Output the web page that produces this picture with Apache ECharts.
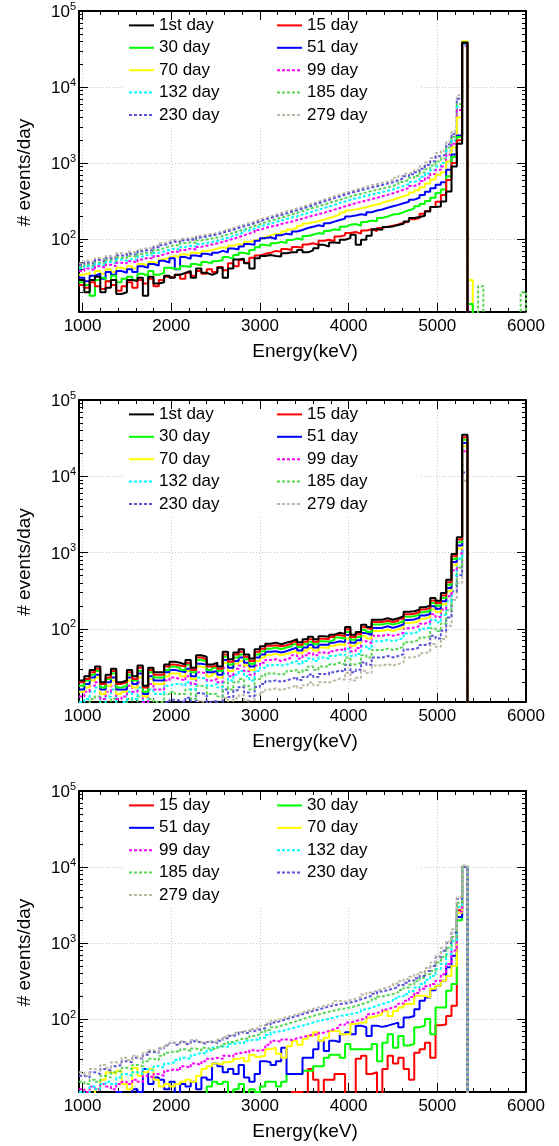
<!DOCTYPE html>
<html><head><meta charset="utf-8">
<script src="https://cdn.jsdelivr.net/npm/echarts@6/dist/echarts.min.js"></script>
<style>html,body{margin:0;padding:0;background:#fff}#c{width:559px;height:1146px}</style>
</head><body><div id="c"></div><script>
// ---------------- DATA ----------------
// Histogram bins: 60 keV wide, first bin starts at 960 keV (bin k covers 960+60k .. 960+60(k+1))
const binLo = 960, binW = 60;
const dayNames = ['1st day','15 day','30 day','51 day','70 day','99 day','132 day','185 day','230 day','279 day'];
const xMajorTicks = [1000,2000,3000,4000,5000,6000];
const xMinorTicks = [1200,1400,1600,1800,2200,2400,2600,2800,3200,3400,3600,3800,4200,4400,4600,4800,5200,5400,5600,5800];

// Panel 1 (total)
const p1_d1   = [29,20,29,32,20,23,29,19,20,29,28,31,18,32,26,27,33,31,34,36,38,31,41,36,34,36,42,31,41,54,55,48,41,56,60,62,60,59,65,67,67,72,67,71,76,84,80,90,89,98,103,114,84,98,111,135,133,144,147,153,159,171,189,195,203,231,264,269,313,424,900,1800,38000];
const p1_d15  = [25,23,27,24,22,28,25,21,24,27,23,29,26,30,24,29,32,31,34,30,36,33,38,35,40,37,43,39,48,44,53,49,57,61,64,66,70,68,74,72,79,77,85,88,84,95,98,94,108,112,120,124,118,130,135,128,140,146,150,156,164,170,182,190,215,235,265,310,380,600,1000,2000,38500];
const p1_d30  = [27,25,18,29,31,28,33,27,30,32,29,35,33,38,34,36,42,41,40,44,43,47,45,50,48,51,53,58,55,62,66,63,72,78,84,82,88,92,89,97,102,98,110,114,120,118,128,135,132,145,154,158,150,168,176,172,190,198,210,214,226,240,252,270,290,318,350,403,450,670,1200,2200,39000,14];
const p1_d51  = [31,28,33,35,30,37,34,38,36,40,37,44,42,47,45,52,49,56,40,58,55,61,59,64,62,66,70,67,75,73,80,86,84,95,103,106,100,112,118,115,126,132,140,145,152,148,162,170,178,186,199,205,212,208,226,238,245,258,270,282,296,310,330,350,380,420,465,519,560,820,1300,2300,39000];
const p1_d70  = [34,36,33,38,35,40,37,42,40,44,41,47,45,50,48,54,57,60,58,63,61,66,64,70,72,75,78,76,82,86,84,92,96,100,106,112,118,115,126,134,140,150,160,166,172,180,190,198,210,224,238,246,252,262,275,285,300,315,330,348,365,385,410,440,480,540,610,702,760,1050,1600,4000,40000,29];
const p1_d99  = [38,41,39,44,42,46,44,49,48,51,49,54,57,55,60,63,66,69,67,72,75,73,79,82,85,88,92,96,101,106,112,118,124,132,140,146,150,158,164,170,178,186,195,204,212,222,232,244,256,270,283,296,310,322,336,350,366,382,400,422,446,470,500,530,580,640,720,817,900,1300,1800,5000,35000];
const p1_d132 = [41,44,42,47,45,50,48,54,52,55,53,59,62,60,66,69,72,75,73,79,82,80,86,89,92,95,100,104,110,116,122,130,138,146,154,160,168,176,184,192,200,210,220,232,244,256,268,282,298,312,329,344,356,372,386,400,416,432,450,476,500,530,565,600,660,730,810,904,1000,1450,2000,5500,36000];
const p1_d185 = [43,46,44,49,48,53,51,57,56,60,58,64,67,65,72,76,80,84,82,88,91,89,96,99,102,105,110,115,121,127,134,141,149,157,166,174,183,192,201,211,222,233,245,258,271,284,298,314,330,346,364,380,396,412,428,446,462,480,500,530,565,600,640,680,750,830,930,1052,1150,1600,2200,6000,37000,0,0,24,0,0,0,0,0,0,0,20];
const p1_d230 = [46,49,47,53,51,56,55,61,60,64,62,69,72,70,78,83,88,93,90,96,99,97,105,108,112,115,121,127,133,140,147,154,162,171,180,189,199,208,218,229,240,252,265,280,296,312,328,346,364,383,403,422,440,458,476,496,516,538,560,594,630,670,715,760,840,940,1060,1225,1300,1750,2400,7000,37500];
const p1_d279 = [48,52,50,56,54,60,58,65,64,68,66,73,77,75,82,88,93,98,95,101,104,102,110,114,117,120,127,133,140,147,155,162,171,180,189,199,209,220,231,242,254,267,280,296,312,330,348,366,385,404,424,445,466,488,510,530,552,575,600,640,680,725,770,820,910,1020,1170,1355,1450,1900,2600,7800,38000];

// Panel 2 (initial activity decaying)
const p2_d1   = [21,24,29,32,20,25,30,20,21,29,24,33,18,31,27,27,34,37,36,34,39,31,45,43,34,36,32,50,40,49,54,46,41,54,59,64,66,63,66,69,73,67,73,79,73,80,79,84,89,86,106,84,91,113,106,132,132,138,132,138,146,168,170,179,192,201,254,234,295,440,961,1590,35000];
const p2_d15  = [20,22,27,30,19,23,28,19,20,27,22,31,17,29,25,25,32,34,33,32,36,29,42,40,32,33,30,46,37,46,50,43,38,50,55,60,61,59,61,64,68,62,68,73,68,74,73,78,83,80,99,78,85,105,99,123,123,128,123,128,136,156,158,166,179,187,236,218,274,409,894,1480,32600];
const p2_d30  = [18,21,25,28,17,22,26,17,18,25,21,28,15,27,23,23,29,32,31,29,34,27,39,37,29,31,28,43,34,42,46,40,35,46,51,55,57,54,57,59,63,58,63,68,63,69,68,72,77,74,91,72,78,97,91,114,114,119,114,119,126,144,146,154,165,173,218,201,254,378,826,1367,30100];
const p2_d51  = [16,19,23,25,16,20,23,16,16,23,19,26,14,24,21,21,27,29,28,27,30,24,35,34,27,28,25,39,31,38,42,36,32,42,46,50,51,49,51,54,57,52,57,62,57,62,62,66,69,67,83,66,71,88,83,103,103,108,103,108,114,131,133,140,150,157,198,183,230,343,750,1240,27300];
const p2_d70  = [15,17,21,23,14,18,21,14,15,21,17,23,13,22,19,19,24,26,26,24,28,22,32,31,24,26,23,36,28,35,38,33,29,38,42,45,47,45,47,49,52,48,52,56,52,57,56,60,63,61,75,60,65,80,75,94,94,98,94,98,104,119,121,127,136,143,180,166,209,312,682,1129,24850];
const p2_d99  = [13,15,18,20,12,15,18,12,13,18,15,20,11,19,16,16,21,23,22,21,24,19,27,26,21,22,20,31,24,30,33,28,25,33,36,39,40,38,40,42,45,41,45,48,45,49,48,51,54,52,65,51,56,69,65,81,81,84,81,84,89,102,104,109,117,123,155,143,180,268,586,970,21350];
const p2_d132 = [11,12,15,17,10,13,16,10,11,15,12,17,9,16,14,14,18,19,19,18,20,16,23,22,18,19,17,26,21,25,28,24,21,28,31,33,34,33,34,36,38,35,38,41,38,42,41,44,46,45,55,44,47,59,55,69,69,72,69,72,76,87,88,93,100,105,132,122,153,229,500,827,18200];
const p2_d185 = [8,10,12,13,8,10,12,8,8,12,10,13,7,12,11,11,14,15,14,14,16,12,18,17,14,14,13,20,16,20,22,18,16,22,24,26,26,25,26,28,29,27,29,32,29,32,32,34,36,34,42,34,36,45,42,53,53,55,53,55,58,67,68,72,77,80,102,94,118,176,384,636,14000];
const p2_d230 = [6.7,7.7,9.3,10.2,6.4,8,9.6,6.4,6.7,9.3,7.7,10.6,5.8,9.9,8.6,8.6,10.9,11.8,11.5,10.9,12.5,9.9,14.4,13.8,10.9,11.5,10.2,16,12.8,15.7,17.3,14.7,13.1,17.3,18.9,20.5,21.1,20.2,21.1,22.1,23.4,21.4,23.4,25.3,23.4,25.6,25.3,26.9,28.5,27.5,33.9,26.9,29.1,36.2,33.9,42.2,42.2,44.2,42.2,44.2,46.7,53.8,54.4,57.3,61.4,64.3,81.3,74.9,94.4,141,308,509,11200];
const p2_d279 = [5.3,6,7.3,8,5,6.3,7.5,5,5.3,7.3,6,8.3,4.5,7.8,6.8,6.8,8.5,9.3,9,8.5,9.8,7.8,11.3,10.8,8.5,9,8,12.5,10,12.3,13.5,11.5,10.3,13.5,14.8,16,16.5,15.8,16.5,17.3,18.3,16.8,18.3,19.8,18.3,20,19.8,21,22.3,21.5,26.5,21,22.8,28.3,26.5,33,33,34.5,33,34.5,36.5,42,42.5,44.8,48,50.3,63.5,58.5,73.8,110,240,398,8750];

// Panel 3 (ingrowth)
const p3_d15  = [3,4,3,5,4,3,4,5,3,4,5,4,3,5,4,6,4,5,4,6,5,4,6,5,7,5,6,5,7,6,5,8,6,7,6,8,7,6,5,7,11,11,6,22,16,5,16,16,19,19,6,5,30,33,19,20,6,22,33,26,31,22,16,36,40,49,31,83,85,110,150,2700,10000];
const p3_d30  = [5,6,5,7,6,5,6,7,6,7,6,8,7,6,8,7,9,8,7,9,8,10,9,8,13,15,14,15,10,12,14,9,12,11,13,15,15,13,15,19,19,19,21,21,24,24,31,34,34,31,47,40,40,40,40,47,28,49,63,42,60,45,47,78,82,100,63,142,142,236,290,2000,10000];
const p3_d51  = [9,8,10,9,8,10,9,11,10,9,12,11,22,14,17,16,12,15,10,14,13,15,12,17,16,26,24,20,22,19,25,17,15,19,28,27,25,28,42,19,19,19,31,31,40,52,38,52,50,63,67,63,82,78,60,82,79,82,86,90,78,105,110,135,174,193,240,275,320,480,680,2200,10000];
const p3_d70  = [8,9,10,12,16,20,19,21,14,12,23,18,20,22,16,13,14,13,14,15,16,15,18,22,24,26,25,27,28,30,31,28,34,32,33,40,42,35,31,44,52,46,55,60,67,52,57,70,70,63,63,86,90,90,105,110,116,129,110,129,142,158,158,203,203,193,250,275,320,370,500,2500,10000];
const p3_d99  = [12,11,13,12,14,13,12,14,15,14,16,15,18,17,19,18,21,22,21,24,23,26,25,28,30,31,30,33,32,35,37,36,39,38,40,46,52,50,54,53,56,58,60,63,62,66,70,74,78,84,90,94,98,104,116,120,126,134,142,150,160,174,195,220,250,270,290,320,390,530,800,2600,10000];
const p3_d132 = [11,10,13,12,14,15,14,17,19,18,20,19,22,21,24,23,26,27,29,31,30,34,36,35,39,42,44,43,47,49,48,52,54,53,57,62,67,70,72,76,79,82,86,90,94,98,101,105,110,112,116,120,126,134,142,150,158,166,174,186,198,213,235,260,290,330,370,455,530,720,1070,3000,10000];
const p3_d185 = [15,14,16,15,18,17,20,21,23,22,25,24,28,30,29,33,36,38,37,40,38,41,39,42,40,41,44,47,50,53,56,55,60,63,67,72,78,82,86,90,95,100,105,110,115,120,125,130,135,138,142,148,156,164,174,186,198,206,213,226,242,260,285,315,350,390,430,556,650,870,1200,3400,10000];
const p3_d230 = [18,17,20,19,22,21,24,25,28,27,31,30,34,37,36,41,45,49,46,50,47,51,49,47,50,48,52,56,60,63,67,65,70,73,76,84,90,95,100,105,110,116,122,128,134,140,146,152,158,160,165,172,182,192,203,216,230,240,250,265,282,300,322,345,370,430,500,650,790,1000,1370,3800,10000];
const p3_d279 = [20,18,22,21,25,23,27,26,31,29,33,31,36,39,37,42,46,49,47,51,48,53,50,49,52,49,54,58,62,66,70,68,74,77,82,88,95,100,106,110,116,122,129,136,142,148,154,162,174,170,178,186,196,210,224,236,250,262,275,295,315,335,360,385,410,470,556,681,870,1050,1520,4000,10500];

// ---------------- STYLE / LAYOUT ----------------
const FONT = 'Liberation Sans, Arial, Helvetica, sans-serif';
const dayColors = ['#000000','#ff0000','#00ff00','#0000ff','#ffff00','#ff00ff','#00ffff','#59d454','#5954d9','#bdb8a3'];
const dayDashed = [false,false,false,false,false,true,true,true,true,true];
const yMin = 11, yMax = 100000, xMin = 960, xMax = 6000;
const GL = 79, GW = 447;

const panels = [
  {top: 11, height: 301, reverse: true, data: [p1_d1,p1_d15,p1_d30,p1_d51,p1_d70,p1_d99,p1_d132,p1_d185,p1_d230,p1_d279], days: [0,1,2,3,4,5,6,7,8,9], legL: [0,2,4,6,8], legR: [1,3,5,7,9]},
  {top: 400, height: 302, reverse: true, data: [p2_d1,p2_d15,p2_d30,p2_d51,p2_d70,p2_d99,p2_d132,p2_d185,p2_d230,p2_d279], days: [0,1,2,3,4,5,6,7,8,9], legL: [0,2,4,6,8], legR: [1,3,5,7,9]},
  {top: 791, height: 301, reverse: false, data: [p3_d15,p3_d30,p3_d51,p3_d70,p3_d99,p3_d132,p3_d185,p3_d230,p3_d279], days: [1,2,3,4,5,6,7,8,9], legL: [1,3,5,7,9], legR: [2,4,6,8]}
];

function toPoints(arr) {
  const pts = arr.map((v, k) => [binLo + binW * k, Math.max(v, 0.5)]);
  pts.push([binLo + binW * arr.length, 0.5]);
  return pts;
}
function yLabel(v) {
  const e = Math.round(Math.log10(v));
  return Math.abs(v - Math.pow(10, e)) < 1e-6 * v ? '{b|10}{s|' + e + '}' : '';
}

const grid = [], xAxis = [], yAxis = [], series = [], legend = [], graphic = [];
const black = '#000';
panels.forEach((p, pi) => {
  const g0 = grid.length;
  for (let j = 0; j < 4; j++) grid.push({left: GL, top: p.top, width: GW, height: p.height, containLabel: false});
  // main axes
  xAxis.push({gridIndex: g0, type: 'value', min: xMin, max: xMax, position: 'bottom',
    axisLine: {onZero: false, lineStyle: {color: black, width: 2}},
    axisTick: {inside: true, length: 9, customValues: xMajorTicks, lineStyle: {color: black, width: 1}},
    axisLabel: {customValues: xMajorTicks, formatter: v => (v % 1000 === 0 ? String(v) : ''), fontSize: 17, color: black, margin: 6, fontFamily: FONT},
    splitLine: {show: true, lineStyle: {color: '#c4c4c4', type: [1, 2], width: 1}},
    name: 'Energy(keV)', nameLocation: 'middle', nameGap: 30,
    nameTextStyle: {fontSize: 19, color: black, fontFamily: FONT, padding: [0, 0, 0, 5]}});
  yAxis.push({gridIndex: g0, type: 'log', logBase: 10, min: yMin, max: yMax, position: 'left',
    axisLine: {onZero: false, lineStyle: {color: black, width: 2}},
    axisTick: {inside: true, length: 9, lineStyle: {color: black, width: 1}},
    minorTick: {show: true, splitNumber: 9, length: 4, lineStyle: {color: black, width: 1}},
    axisLabel: {interval: 0, formatter: yLabel, margin: 3, color: black,
      rich: {b: {fontSize: 17, lineHeight: 20, verticalAlign: 'bottom', color: black, fontFamily: FONT},
             s: {fontSize: 11, lineHeight: 11, verticalAlign: 'top', color: black, fontFamily: FONT}}},
    splitLine: {show: true, lineStyle: {color: '#c4c4c4', type: [1, 2], width: 1}},
    name: '# events/day', nameLocation: 'middle', nameGap: 45, nameRotate: 90,
    nameTextStyle: {fontSize: 19, color: black, fontFamily: FONT, padding: [0, 22, 0, 0]}});
  // top / right frame with major ticks
  xAxis.push({gridIndex: g0 + 1, type: 'value', min: xMin, max: xMax, position: 'top', z: 3,
    axisLine: {onZero: false, lineStyle: {color: black, width: 2}},
    axisTick: {inside: true, length: 9, customValues: xMajorTicks, lineStyle: {color: black, width: 1}},
    axisLabel: {show: false}, splitLine: {show: false}});
  yAxis.push({gridIndex: g0 + 1, type: 'log', logBase: 10, min: yMin, max: yMax, position: 'right', z: 3,
    axisLine: {onZero: false, lineStyle: {color: black, width: 2}},
    axisTick: {inside: true, length: 9, lineStyle: {color: black, width: 1}},
    minorTick: {show: true, splitNumber: 9, length: 4, lineStyle: {color: black, width: 1}},
    axisLabel: {show: false}, splitLine: {show: false}});
  // minor x ticks bottom / top
  [['bottom', g0 + 2], ['top', g0 + 3]].forEach(([pos, gi]) => {
    xAxis.push({gridIndex: gi, type: 'value', min: xMin, max: xMax, position: pos, z: 3,
      axisLine: {show: false, onZero: false},
      axisTick: {inside: true, length: 4, customValues: xMinorTicks, lineStyle: {color: black, width: 1}},
      axisLabel: {show: false}, splitLine: {show: false}});
    yAxis.push({gridIndex: gi, type: 'value', min: 0, max: 1, show: false});
  });
  // histogram series
  const xi = xAxis.length - 4, yi = yAxis.length - 4;
  const order = p.data.map((_, s) => s);
  if (p.reverse) order.reverse();
  order.forEach(s => {
    const d = p.days[s];
    series.push({type: 'line', name: dayNames[d], xAxisIndex: xi, yAxisIndex: yi,
      data: toPoints(p.data[s]), step: 'end', symbol: 'none', showSymbol: false, clip: true,
      silent: true, animation: false,
      lineStyle: {color: dayColors[d], width: 2, type: dayDashed[d] ? [3, 2] : 'solid'},
      itemStyle: {color: dayColors[d]}, emphasis: {disabled: true}});
  });
  // legend background + two legend columns
  graphic.push({type: 'rect', z: 1, silent: true, shape: {x: 122, y: p.top + 3, width: 298, height: 113}, style: {fill: '#fff'}});
  [[p.legL, 128], [p.legR, 276]].forEach(([idx, left]) => {
    legend.push({orient: 'vertical', left: left, top: p.top + 4.4, padding: 0, itemWidth: 25, itemHeight: 10, itemGap: 2.4,
      selectedMode: false, data: idx.map(i => dayNames[i]),
      itemStyle: {opacity: 0},
      textStyle: {fontSize: 17, lineHeight: 20, color: black, fontFamily: FONT}});
  });
});

const chart = echarts.init(document.getElementById('c'), null, {renderer: 'canvas'});
chart.setOption({animation: false, backgroundColor: '#fff', textStyle: {fontFamily: FONT},
  grid, xAxis, yAxis, series, legend, graphic});
</script></body></html>
